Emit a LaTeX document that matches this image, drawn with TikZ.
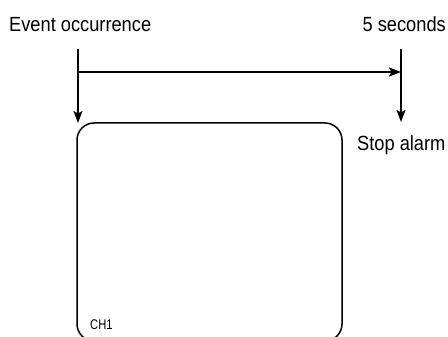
\documentclass[tikz,border=0pt]{standalone}
\usepackage{fontspec}
\setmainfont[FakeStretch=0.89]{Liberation Sans}
\newfontfamily\chfont[FakeStretch=0.8]{Liberation Sans}
\usetikzlibrary{arrows.meta}
\begin{document}
\begin{tikzpicture}[x=1pt,y=-1pt,
  line/.style={line width=1.5pt},
  arr/.style={line, -{Stealth[length=12pt,width=9pt,inset=2.5pt]}},
  lbl/.style={font=\fontsize{20.5}{22}\selectfont, inner sep=0pt},
  screen/.style={draw, line width=1.5pt, rounded corners=17pt, minimum width=265pt, minimum height=218pt, inner sep=0pt}]
\useasboundingbox (0,0) rectangle (448,337);
\clip (0,0) rectangle (448,337);
\node[lbl, anchor=base west] (ev) at (9,32) {Event occurrence};
\node[lbl, anchor=base east] (five) at (446,32) {5 seconds};
\node[lbl, anchor=base west] (stop) at (357,150) {Stop alarm};
\node[screen] (box) at (209.5,232) {};
\node[inner sep=0pt, anchor=base west, font=\chfont\fontsize{14}{15}\selectfont] (ch) at (90,329) {CH1};
\coordinate (lt) at (78,49);
\coordinate (lb) at (78,123);
\coordinate (rt) at (401,49);
\coordinate (rb) at (401,122);
\coordinate (hl) at (78,72);
\coordinate (hr) at (401,72);
\draw[arr] (lt) -- (lb);
\draw[arr] (rt) -- (rb);
\draw[arr] (hl) -- (hr);
\end{tikzpicture}
\end{document}
